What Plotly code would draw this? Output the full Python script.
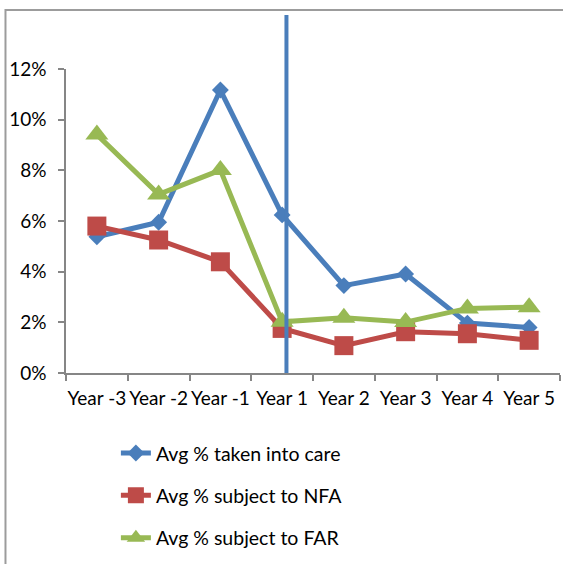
import plotly.graph_objects as go

# Categories and series values (share of cases)
years = ["Year -3", "Year -2", "Year -1", "Year 1", "Year 2", "Year 3", "Year 4", "Year 5"]
taken_into_care = [0.0538, 0.0595, 0.1117, 0.0624, 0.0345, 0.0391, 0.0197, 0.0180]
subject_to_nfa = [0.0580, 0.0525, 0.0439, 0.0176, 0.0108, 0.0163, 0.0155, 0.0129]
subject_to_far = [0.0941, 0.0705, 0.0801, 0.0202, 0.0218, 0.0201, 0.0255, 0.0260]

# Intervention point, between Year -1 and Year 1 (category index units)
intervention_x = 3.07

FONT = "Lato"
BLUE, RED, GREEN = "#4A7EBB", "#BE4B48", "#98B954"
AXIS = "#868686"

fig = go.Figure()
fig.add_trace(go.Scatter(
    x=years, y=taken_into_care, mode="lines+markers", name="Avg % taken into care",
    legendgroup="care",
    line=dict(color=BLUE, width=5),
    marker=dict(symbol="diamond", size=13, color=BLUE)))
fig.add_trace(go.Scatter(
    x=years, y=subject_to_nfa, mode="lines+markers", name="Avg % subject to NFA",
    legendgroup="nfa",
    line=dict(color=RED, width=5),
    marker=dict(symbol="square", size=19, color=RED)))
fig.add_trace(go.Scatter(
    x=years, y=subject_to_far, mode="lines+markers", name="Avg % subject to FAR",
    legendgroup="far",
    line=dict(color=GREEN, width=5),
    marker=dict(symbol="triangle-up", size=20, color=GREEN)))

# Vertical intervention line, rising above the plotting area
fig.add_shape(type="line", xref="x", yref="paper",
              x0=intervention_x, x1=intervention_x, y0=0, y1=1.178,
              line=dict(color=BLUE, width=4), layer="above")

# Chart frame
fig.add_shape(type="rect", xref="paper", yref="paper",
              x0=-0.1225, x1=1.2, y0=-0.75, y1=1.194,
              line=dict(color="#9C9C9C", width=2), layer="below")

fig.update_layout(
    width=563, height=564,
    margin=dict(l=66, r=3, t=69, b=191),
    paper_bgcolor="white", plot_bgcolor="white",
    font=dict(family=FONT, size=19, color="black"),
    showlegend=True,
    legend=dict(x=0.101, y=-0.2, xanchor="left", yanchor="top",
                orientation="v", tracegroupgap=14,
                font=dict(family=FONT, size=19.5, color="black"),
                bgcolor="rgba(0,0,0,0)"),
    xaxis=dict(type="category", range=[-0.5, 7.5], showgrid=False,
               showline=True, linecolor=AXIS, linewidth=1.5,
               ticks="outside", ticklen=6, tickcolor=AXIS, tickwidth=1.5,
               tickson="boundaries", tickangle=0, tickfont=dict(size=19),
               ticklabelstandoff=7, zeroline=False),
    yaxis=dict(range=[0, 0.12], dtick=0.02, tickformat=".0%", showgrid=False,
               showline=True, linecolor=AXIS, linewidth=1.5,
               ticks="outside", ticklen=6, tickcolor=AXIS, tickwidth=1.5,
               tickfont=dict(size=19), zeroline=False, ticklabelstandoff=8),
)

fig.write_html("out.html")
